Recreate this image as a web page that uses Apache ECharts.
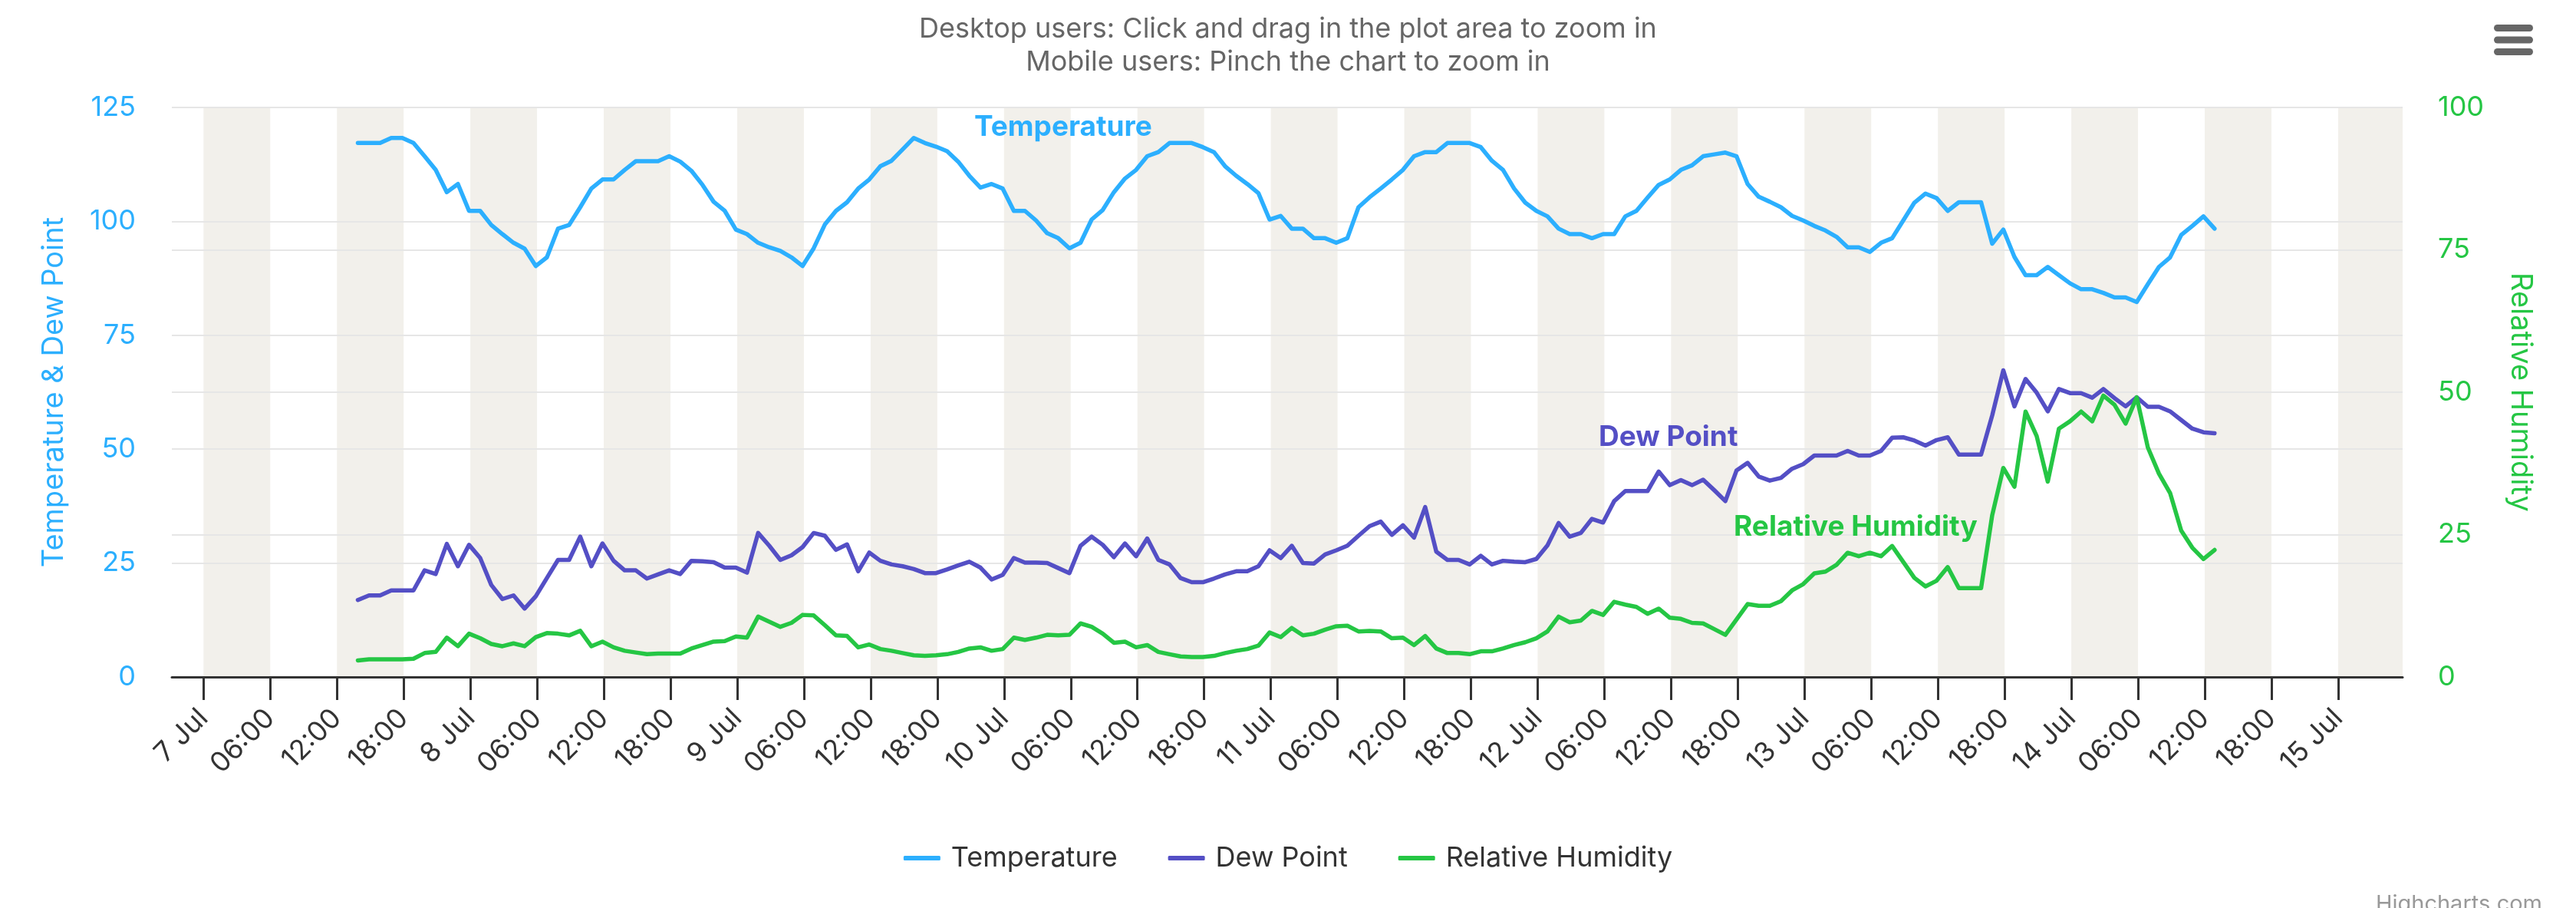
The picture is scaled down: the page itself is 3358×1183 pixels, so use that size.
<!DOCTYPE html>
<html>
<head>
<meta charset="utf-8">
<title>Temperature, Dew Point and Relative Humidity</title>
<script src="https://cdn.jsdelivr.net/npm/echarts@6/dist/echarts.min.js"></script>
<style>
  html, body { margin: 0; padding: 0; background: #fff; }
  #chart { width: 3358px; height: 1183px; }
</style>
</head>
<body>
<div id="chart"></div>
<script>
// hourly observations, the first one taken on 7 Jul at 13:53
const HOUR = 3600 * 1000;
const START = Date.UTC(2024, 6, 7, 13, 53);

const temperature = [
    117.2, 117.2, 117.2, 118.3, 118.3, 117.2, 114.3, 111.3, 106.4, 108.2, 102.3, 102.3, 99.2, 97.2, 95.3, 94.0, 90.2,
    92.1, 98.4, 99.2, 103.1, 107.2, 109.2, 109.2, 111.3, 113.2, 113.2, 113.2, 114.3, 113.1, 111.1, 108.0, 104.3, 102.3,
    98.2, 97.2, 95.3, 94.3, 93.5, 92.1, 90.2, 94.1, 99.3, 102.3, 104.2, 107.2, 109.2, 112.1, 113.3, 115.8, 118.3,
    117.2, 116.4, 115.4, 113.1, 110.0, 107.4, 108.2, 107.2, 102.3, 102.3, 100.2, 97.4, 96.3, 94.1, 95.3, 100.4,
    102.5, 106.4, 109.4, 111.3, 114.3, 115.2, 117.2, 117.2, 117.2, 116.3, 115.2, 112.1, 110.0, 108.2, 106.2, 100.4,
    101.2, 98.4, 98.4, 96.3, 96.3, 95.3, 96.3, 103.1, 105.3, 107.2, 109.2, 111.3, 114.3, 115.2, 115.2, 117.2, 117.2,
    117.2, 116.3, 113.3, 111.3, 107.2, 104.1, 102.3, 101.1, 98.4, 97.2, 97.2, 96.3, 97.2, 97.2, 101.1, 102.3, 105.2,
    108.0, 109.2, 111.3, 112.3, 114.3, 114.7, 115.1, 114.3, 108.2, 105.4, 104.3, 103.1, 101.2, 100.2, 99.0, 98.0,
    96.6, 94.3, 94.3, 93.3, 95.3, 96.3, 100.2, 104.1, 106.1, 105.1, 102.3, 104.2, 104.2, 104.2, 95.1, 98.2, 92.2,
    88.2, 88.2, 90.0, 88.2, 86.4, 85.1, 85.1, 84.3, 83.3, 83.3, 82.3, 86.2, 90.0, 92.1, 97.0, 99.0, 101.1, 98.4
];

const dewPoint = [
    16.9, 17.9, 17.9, 19.0, 19.0, 19.0, 23.4, 22.6, 29.2, 24.3, 29.0, 26.1, 20.2, 17.1, 17.9, 15.0, 17.7,
    21.7, 25.7, 25.7, 30.8, 24.3, 29.3, 25.5, 23.4, 23.4, 21.6, 22.5, 23.4, 22.6, 25.5, 25.4, 25.2, 24.0,
    24.0, 22.9, 31.6, 28.8, 25.7, 26.7, 28.5, 31.6, 31.0, 27.9, 29.1, 23.2, 27.3, 25.5, 24.7, 24.3, 23.7,
    22.8, 22.8, 23.6, 24.5, 25.3, 24.0, 21.4, 22.4, 26.1, 25.1, 25.1, 25.0, 23.9, 22.8, 28.8, 30.8,
    29.0, 26.3, 29.3, 26.5, 30.4, 25.7, 24.7, 21.7, 20.8, 20.8, 21.6, 22.5, 23.2, 23.2, 24.3, 27.8,
    26.1, 28.8, 25.0, 24.9, 26.9, 27.8, 28.8, 31.0, 33.1, 34.1, 31.2, 33.3, 30.6, 37.3, 27.5, 25.7, 25.7,
    24.7, 26.6, 24.7, 25.5, 25.3, 25.2, 25.9, 28.9, 33.8, 30.8, 31.6, 34.7, 33.9, 38.6, 40.8, 40.8, 40.8,
    45.1, 42.1, 43.2, 42.1, 43.3, 41.0, 38.6, 45.3, 47.0, 44.0, 43.1, 43.7, 45.7, 46.7, 48.6, 48.6,
    48.6, 49.6, 48.6, 48.6, 49.6, 52.5, 52.6, 51.9, 50.8, 52.0, 52.6, 48.8, 48.8, 48.8, 57.4, 67.3, 59.4,
    65.4, 62.4, 58.3, 63.2, 62.3, 62.3, 61.3, 63.2, 61.2, 59.4, 61.4, 59.3, 59.3, 58.3, 56.4, 54.5, 53.7, 53.5
];

const humidity = [
    2.9, 3.1, 3.1, 3.1, 3.1, 3.2, 4.2, 4.4, 6.9, 5.4, 7.6, 6.8, 5.8, 5.4, 5.9, 5.4, 7.0,
    7.7, 7.6, 7.3, 8.1, 5.4, 6.2, 5.2, 4.6, 4.3, 4.0, 4.1, 4.1, 4.1, 5.0, 5.6, 6.2, 6.3,
    7.1, 6.9, 10.6, 9.7, 8.8, 9.5, 10.9, 10.8, 9.1, 7.3, 7.2, 5.2, 5.7, 4.9, 4.6, 4.2, 3.8,
    3.7, 3.8, 4.0, 4.4, 5.0, 5.2, 4.6, 4.9, 6.9, 6.5, 6.9, 7.4, 7.3, 7.4, 9.4, 8.8,
    7.6, 6.0, 6.2, 5.2, 5.6, 4.4, 4.0, 3.6, 3.5, 3.5, 3.7, 4.2, 4.6, 4.9, 5.5, 7.8,
    7.0, 8.6, 7.3, 7.6, 8.3, 8.9, 9.0, 8.0, 8.1, 8.0, 6.8, 6.9, 5.6, 7.2, 5.0, 4.2, 4.2,
    4.0, 4.5, 4.5, 5.0, 5.6, 6.1, 6.8, 8.0, 10.6, 9.6, 9.9, 11.6, 10.9, 13.2, 12.7, 12.3, 11.1,
    12.0, 10.4, 10.2, 9.5, 9.4, 8.4, 7.4, 10.1, 12.8, 12.5, 12.5, 13.3, 15.2, 16.3, 18.2, 18.5,
    19.7, 21.8, 21.2, 21.8, 21.2, 23.0, 20.2, 17.4, 15.9, 16.9, 19.3, 15.6, 15.6, 15.6, 28.4, 36.7, 33.4,
    46.6, 42.3, 34.3, 43.6, 44.9, 46.6, 44.9, 49.4, 47.8, 44.5, 49.1, 40.3, 35.7, 32.3, 25.7, 22.7, 20.7, 22.3
];

const seriesNames = ['Temperature', 'Dew Point', 'Relative Humidity'];
const colors = ['#2caffe', '#544fc5', '#25c644'];

// x axis range and 6-hourly ticks
const X_MIN = Date.UTC(2024, 6, 6, 21, 9);
const X_MAX = Date.UTC(2024, 6, 15, 5, 48);
const tickValues = [];
for (let t = Date.UTC(2024, 6, 7); t <= Date.UTC(2024, 6, 15); t += 6 * HOUR) {
    tickValues.push(t);
}
// shaded bands run between the ticks, the last one up to the axis end
const bandEdges = tickValues.concat([X_MAX]);

const MONTHS = ['Jan', 'Feb', 'Mar', 'Apr', 'May', 'Jun', 'Jul', 'Aug', 'Sep', 'Oct', 'Nov', 'Dec'];
function tickLabel(value) {
    const d = new Date(value);
    if (d.getUTCHours() === 0) {
        return d.getUTCDate() + ' ' + MONTHS[d.getUTCMonth()];
    }
    return String(d.getUTCHours()).padStart(2, '0') + ':00';
}

function toPoints(values) {
    return values.map((v, i) => [START + i * HOUR, v]);
}

const FONT = 'Inter, "Liberation Sans", Arial, sans-serif';

const chart = echarts.init(document.getElementById('chart'), null, { renderer: 'canvas' });

chart.setOption({
    animation: false,
    backgroundColor: '#ffffff',
    textStyle: { fontFamily: FONT },
    title: {
        text: 'Desktop users: Click and drag in the plot area to zoom in\nMobile users: Pinch the chart to zoom in',
        left: 'center',
        top: 12,
        textStyle: { fontSize: 36, fontWeight: 'normal', color: '#666666', lineHeight: 43, fontFamily: FONT }
    },
    legend: {
        data: seriesNames,
        left: 'center',
        top: 1091,
        icon: 'roundRect',
        itemWidth: 48,
        itemHeight: 6,
        itemGap: 66,
        textStyle: { fontSize: 36, color: '#333333', fontFamily: FONT, lineHeight: 44, padding: [0, 0, 0, 9] }
    },
    grid: { left: 224, right: 226, top: 140, bottom: 301, containLabel: false, outerBoundsMode: 'none' },
    xAxis: [
        {
            type: 'value',
            min: X_MIN,
            max: X_MAX,
            z: 1,
            axisLine: { lineStyle: { color: '#333333', width: 3 } },
            axisTick: { show: true, length: 30, customValues: tickValues, lineStyle: { color: '#333333', width: 3 } },
            axisLabel: {
                customValues: tickValues,
                formatter: tickLabel,
                rotate: 45,
                margin: 48,
                color: '#333333',
                fontSize: 36,
                fontFamily: FONT
            },
            splitLine: { show: false }
        },
        {
            // only used to paint the alternating bands
            type: 'value',
            min: X_MIN,
            max: X_MAX,
            position: 'bottom',
            z: 0,
            axisLine: { show: false },
            axisTick: { show: false, customValues: bandEdges },
            axisLabel: { show: false },
            splitLine: { show: false },
            splitArea: { show: true, areaStyle: { color: ['#f2f0eb', 'rgba(255,255,255,0)'] } }
        }
    ],
    yAxis: [
        {
            type: 'value',
            min: 0,
            max: 125,
            interval: 25,
            z: 1,
            name: 'Temperature & Dew Point',
            nameLocation: 'middle',
            nameGap: 134,
            nameTextStyle: { color: '#2caffe', fontSize: 38, fontFamily: FONT },
            axisLine: { show: false },
            axisTick: { show: false },
            axisLabel: { color: '#2caffe', fontSize: 36, margin: 47, fontFamily: FONT },
            splitLine: { lineStyle: { color: '#e6e6e6', width: 2 } }
        },
        {
            type: 'value',
            min: 0,
            max: 100,
            interval: 25,
            position: 'right',
            z: 1,
            name: 'Relative Humidity',
            nameLocation: 'middle',
            nameRotate: -90,
            nameGap: 134,
            nameTextStyle: { color: colors[2], fontSize: 38, fontFamily: FONT },
            axisLine: { show: false },
            axisTick: { show: false },
            axisLabel: { color: colors[2], fontSize: 36, margin: 46, fontFamily: FONT },
            splitLine: { lineStyle: { color: '#e6e6e6', width: 2 } }
        }
    ],
    series: [
        {
            name: seriesNames[0],
            type: 'line',
            yAxisIndex: 0,
            data: toPoints(temperature),
            showSymbol: false,
            z: 3,
            color: colors[0],
            lineStyle: { width: 5.5, cap: 'round', join: 'round' }
        },
        {
            name: seriesNames[1],
            type: 'line',
            yAxisIndex: 0,
            data: toPoints(dewPoint),
            showSymbol: false,
            z: 3,
            color: colors[1],
            lineStyle: { width: 5.5, cap: 'round', join: 'round' }
        },
        {
            name: seriesNames[2],
            type: 'line',
            yAxisIndex: 1,
            data: toPoints(humidity),
            showSymbol: false,
            z: 3,
            color: colors[2],
            lineStyle: { width: 5.5, cap: 'round', join: 'round' }
        }
    ],
    graphic: [
        // series labels
        { type: 'text', left: 1270, top: 147, z: 10, style: { text: 'Temperature', fill: colors[0], font: 'bold 37px ' + FONT } },
        { type: 'text', left: 2084, top: 551, z: 10, style: { text: 'Dew Point', fill: colors[1], font: 'bold 37px ' + FONT } },
        { type: 'text', left: 2260, top: 668, z: 10, style: { text: 'Relative Humidity', fill: colors[2], font: 'bold 37px ' + FONT } },
        // context menu button
        { type: 'rect', shape: { x: 3251, y: 32, width: 51, height: 9, r: 4.5 }, style: { fill: '#666666' } },
        { type: 'rect', shape: { x: 3251, y: 47.5, width: 51, height: 9, r: 4.5 }, style: { fill: '#666666' } },
        { type: 'rect', shape: { x: 3251, y: 63, width: 51, height: 9, r: 4.5 }, style: { fill: '#666666' } },
        // credits
        { type: 'text', right: 44, top: 1164, style: { text: 'Highcharts.com', fill: '#999999', font: '29px ' + FONT } }
    ]
});
</script>
</body>
</html>
